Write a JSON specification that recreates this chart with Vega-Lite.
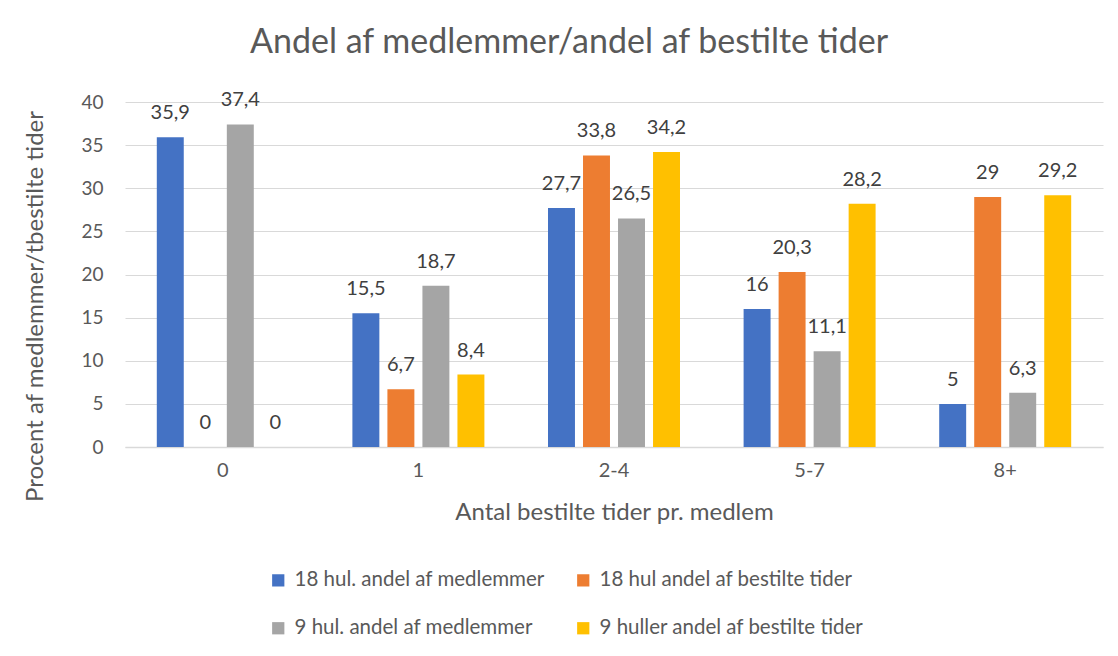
{
  "$schema": "https://vega.github.io/schema/vega-lite/v6.json",
  "autosize": "none",
  "width": 978,
  "height": 345,
  "padding": {"left": 125, "top": 102, "right": 15, "bottom": 209},
  "background": "white",
  "title": {"text": "Andel af medlemmer/andel af bestilte tider", "fontSize": 34, "font": "Lato", "fontWeight": "normal", "color": "#595959", "anchor": "middle", "offset": 30, "dx": -45},
  "config": {
    "locale": {"number": {"decimal": ",", "thousands": ".", "grouping": [3], "currency": ["", " kr."]}},
    "font": "Lato",
    "view": {"stroke": null}
  },
  "data": {"values": [
    {"kat": "0", "serie": "18 hul. andel af medlemmer", "pct": 35.9},
    {"kat": "0", "serie": "18 hul andel af bestilte tider", "pct": 0},
    {"kat": "0", "serie": "9 hul. andel af medlemmer", "pct": 37.4},
    {"kat": "0", "serie": "9 huller andel af bestilte tider", "pct": 0},
    {"kat": "1", "serie": "18 hul. andel af medlemmer", "pct": 15.5},
    {"kat": "1", "serie": "18 hul andel af bestilte tider", "pct": 6.7},
    {"kat": "1", "serie": "9 hul. andel af medlemmer", "pct": 18.7},
    {"kat": "1", "serie": "9 huller andel af bestilte tider", "pct": 8.4},
    {"kat": "2-4", "serie": "18 hul. andel af medlemmer", "pct": 27.7},
    {"kat": "2-4", "serie": "18 hul andel af bestilte tider", "pct": 33.8},
    {"kat": "2-4", "serie": "9 hul. andel af medlemmer", "pct": 26.5},
    {"kat": "2-4", "serie": "9 huller andel af bestilte tider", "pct": 34.2},
    {"kat": "5-7", "serie": "18 hul. andel af medlemmer", "pct": 16},
    {"kat": "5-7", "serie": "18 hul andel af bestilte tider", "pct": 20.3},
    {"kat": "5-7", "serie": "9 hul. andel af medlemmer", "pct": 11.1},
    {"kat": "5-7", "serie": "9 huller andel af bestilte tider", "pct": 28.2},
    {"kat": "8+", "serie": "18 hul. andel af medlemmer", "pct": 5},
    {"kat": "8+", "serie": "18 hul andel af bestilte tider", "pct": 29},
    {"kat": "8+", "serie": "9 hul. andel af medlemmer", "pct": 6.3},
    {"kat": "8+", "serie": "9 huller andel af bestilte tider", "pct": 29.2}
  ]},
  "encoding": {
    "x": {"field": "kat", "type": "nominal", "sort": ["0", "1", "2-4", "5-7", "8+"],
      "scale": {"paddingInner": 0.284, "paddingOuter": 0.142},
      "axis": {"title": "Antal bestilte tider pr. medlem", "labelAngle": 0, "labelFontSize": 20, "labelColor": "#595959", "labelPadding": 13, "titleFontSize": 24, "titleFontWeight": "normal", "titleColor": "#595959", "titlePadding": 20, "ticks": false, "domainColor": "#d9d9d9", "domainWidth": 1.5}},
    "xOffset": {"field": "serie", "type": "nominal",
      "sort": ["18 hul. andel af medlemmer", "18 hul andel af bestilte tider", "9 hul. andel af medlemmer", "9 huller andel af bestilte tider"],
      "scale": {"paddingInner": 0.23, "paddingOuter": 0.115}},
    "y": {"field": "pct", "type": "quantitative",
      "scale": {"domain": [0, 40]},
      "axis": {"title": "Procent af medlemmer/tbestilte tider", "values": [0, 5, 10, 15, 20, 25, 30, 35, 40], "labelOverlap": false, "labelFontSize": 19, "labelColor": "#595959", "labelPadding": 22, "titleFontSize": 24, "titleFontWeight": "normal", "titleColor": "#595959", "titleX": -90, "titleY": 204, "titleAlign": "center", "titleBaseline": "middle", "ticks": false, "domain": false, "gridColor": "#d9d9d9", "gridWidth": 1.2}}
  },
  "layer": [
    {
      "mark": {"type": "bar"},
      "encoding": {
        "color": {"field": "serie", "type": "nominal",
          "sort": ["18 hul. andel af medlemmer", "18 hul andel af bestilte tider", "9 hul. andel af medlemmer", "9 huller andel af bestilte tider"],
          "scale": {"domain": ["18 hul. andel af medlemmer", "18 hul andel af bestilte tider", "9 hul. andel af medlemmer", "9 huller andel af bestilte tider"], "range": ["#4472C4", "#ED7D31", "#A5A5A5", "#FFC000"]},
          "legend": {"title": null, "orient": "none", "legendX": 143, "legendY": 468, "columns": 2, "direction": "horizontal", "symbolType": "square", "symbolSize": 150, "symbolStrokeWidth": 0, "labelFontSize": 20.5, "labelLimit": 500, "labelColor": "#595959", "rowPadding": 27, "columnPadding": 28, "labelOffset": 6}}
      }
    },
    {
      "mark": {"type": "text", "baseline": "bottom", "dy": -14, "fontSize": 20, "color": "#404040"},
      "encoding": {"text": {"field": "pct", "type": "quantitative", "format": ".3~g"}}
    }
  ]
}
